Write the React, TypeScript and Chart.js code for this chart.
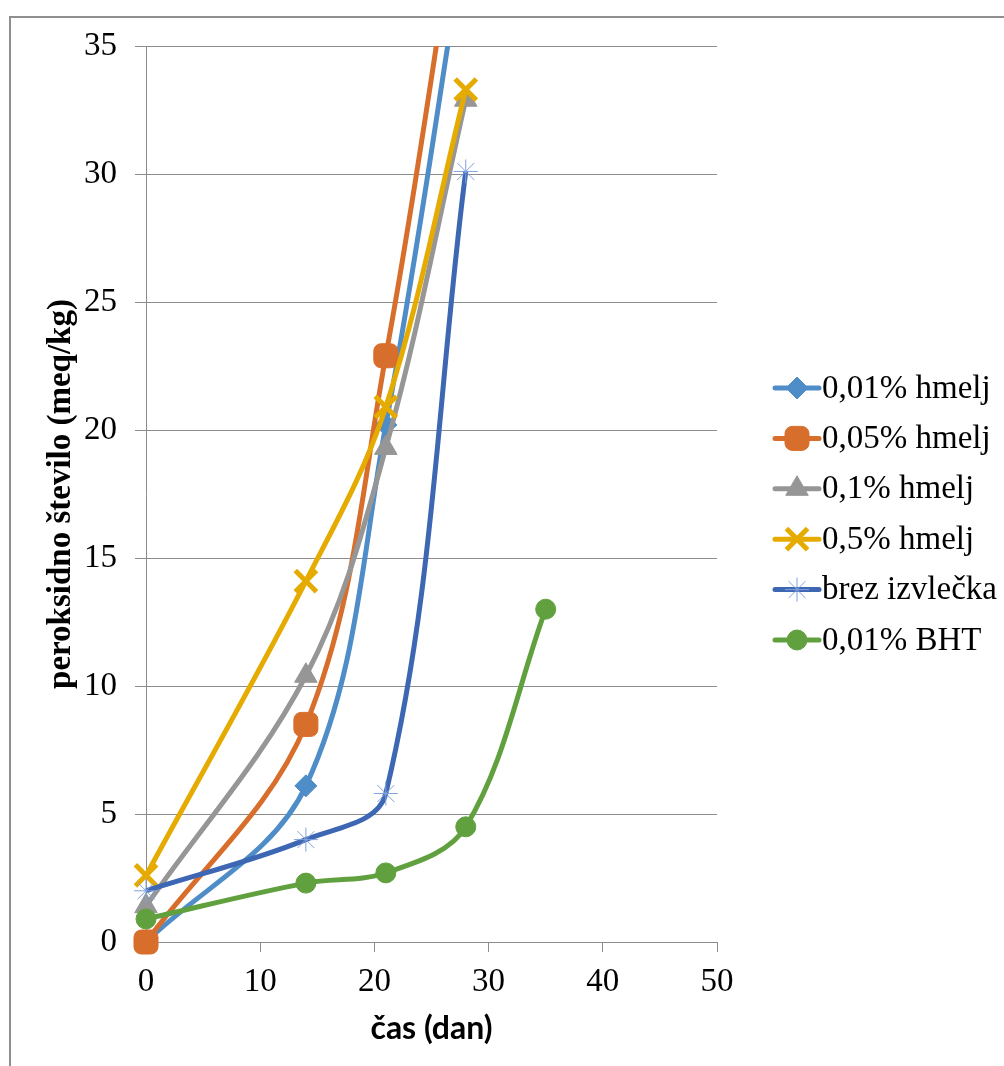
import React, { useEffect, useRef } from "react";
import { Chart, registerables } from "chart.js";
import { drawPoint } from "chart.js/helpers";

Chart.register(...registerables);

// ---- data ----
const days = [0, 14, 21, 28];
const bhtDays = [0, 14, 21, 28, 35];
const hmelj001 = [0, 6.1, 20.2, 39.5];
const hmelj005 = [0, 8.5, 22.9, 42.5];
const hmelj01 = [1.4, 10.4, 19.3, 32.9];
const hmelj05 = [2.6, 14.1, 20.9, 33.3];
const brezIzvlecka = [2.0, 4.0, 5.8, 30.1];
const bht001 = [0.9, 2.3, 2.7, 4.5, 13.0];
const seriesLabels = [
  "0,01% hmelj",
  "0,05% hmelj",
  "0,1% hmelj",
  "0,5% hmelj",
  "brez izvlečka",
  "0,01% BHT",
];
const xTitle = "čas (dan)";
const yTitle = "peroksidno število (meq/kg)";
const xMin = 0, xMax = 50, xStep = 10;
const yMin = 0, yMax = 35, yStep = 5;

const toXY = (xs: number[], ys: number[]) => ys.map((y, i) => ({ x: xs[i], y }));

const SERIF = '"Liberation Serif", "Times New Roman", serif';

const legendPlugin = {
  id: "sideLegend",
  afterDraw(chart: any) {
    const ctx = chart.ctx as CanvasRenderingContext2D;
    ctx.save();
    chart.data.datasets.forEach((ds: any, i: number) => {
      const y = 388 + i * 50.4;
      ctx.strokeStyle = ds.borderColor;
      ctx.lineWidth = 5;
      ctx.lineCap = "round";
      ctx.beginPath();
      ctx.moveTo(775, y);
      ctx.lineTo(819, y);
      ctx.stroke();
      ctx.lineCap = "butt";
      ctx.fillStyle = ds.pointBackgroundColor;
      ctx.strokeStyle = ds.pointBorderColor;
      ctx.lineWidth = ds.pointBorderWidth;
      drawPoint(
        ctx,
        { pointStyle: ds.pointStyle, radius: ds.pointRadius, rotation: 0, borderWidth: ds.pointBorderWidth } as any,
        797,
        y
      );
      ctx.fillStyle = "#000";
      ctx.font = `33px ${SERIF}`;
      ctx.textBaseline = "middle";
      ctx.textAlign = "left";
      ctx.fillText(ds.label, 822, y + 1);
    });
    ctx.restore();
  },
};

export default function App() {
  const ref = useRef<HTMLCanvasElement | null>(null);

  useEffect(() => {
    document.body.style.margin = "0";
    if (!ref.current) return;
    const mk = (
      label: string,
      data: { x: number; y: number }[],
      color: string,
      pointStyle: string,
      radius: number,
      order: number,
      extra: any = {}
    ) => ({
      label,
      data,
      borderColor: color,
      backgroundColor: color,
      pointBackgroundColor: color,
      pointBorderColor: color,
      pointBorderWidth: 1,
      pointStyle,
      pointRadius: radius,
      pointHoverRadius: radius,
      borderWidth: 5,
      tension: 0.35,
      fill: false,
      order,
      clip: { left: 30, right: 30, top: 0, bottom: 30 },
      ...extra,
    });

    const chart = new Chart(ref.current, {
      type: "line",
      data: {
        datasets: [
          mk(seriesLabels[0], toXY(days, hmelj001), "#4e8dc7", "rectRot", 11, 6),
          mk(seriesLabels[1], toXY(days, hmelj005), "#d86e2b", "rectRounded", 14, 5),
          mk(seriesLabels[2], toXY(days, hmelj01), "#969696", "triangle", 13, 4),
          mk(seriesLabels[3], toXY(days, hmelj05), "#e6ab00", "crossRot", 15, 3, { pointBorderWidth: 5 }),
          mk(seriesLabels[4], toXY(days, brezIzvlecka), "#3d66b3", "star", 12, 2, { pointBorderColor: "#7fa2de", pointBackgroundColor: "#7fa2de" }),
          mk(seriesLabels[5], toXY(bhtDays, bht001), "#61a03e", "circle", 10, 1),
        ] as any,
      },
      options: {
        animation: false,
        responsive: false,
        maintainAspectRatio: false,
        layout: { padding: { left: 0, right: 287, top: 46, bottom: 0 } },
        plugins: { legend: { display: false }, tooltip: { enabled: false } },
        scales: {
          x: {
            type: "linear",
            min: xMin,
            max: xMax,
            ticks: { stepSize: xStep, color: "#000", font: { family: SERIF, size: 33 }, padding: 11 },
            grid: { drawOnChartArea: false, drawTicks: true, tickLength: 10, color: "#8c8c8c", lineWidth: 1 },
            border: { display: true, color: "#8c8c8c", width: 1 },
            title: {
              display: true,
              text: xTitle,
              color: "#000",
              font: { family: "Lato, 'Open Sans', sans-serif", size: 32, weight: "bold" },
              padding: { top: 0, bottom: 18 },
            },
            afterFit: (s: any) => { s.height = 124; },
          },
          y: {
            type: "linear",
            min: yMin,
            max: yMax,
            ticks: { stepSize: yStep, color: "#000", font: { family: SERIF, size: 33 }, padding: 18 },
            grid: { drawOnChartArea: true, drawTicks: true, tickLength: 11, color: "#8c8c8c", lineWidth: 1 },
            border: { display: true, color: "#8c8c8c", width: 1 },
            title: {
              display: true,
              text: yTitle,
              color: "#000",
              font: { family: SERIF, size: 33, weight: "bold" },
              padding: { top: 42, bottom: 0 },
            },
            afterFit: (s: any) => { s.width = 146; },
          },
        },
      } as any,
      plugins: [legendPlugin],
    });
    return () => chart.destroy();
  }, []);

  return (
    <div style={{ position: "relative", width: 1004, height: 1066, background: "#fff", overflow: "hidden" }}>
      <canvas ref={ref} width={1004} height={1066} style={{ position: "absolute", left: 0, top: 0, width: 1004, height: 1066 }} />
      <div
        style={{
          position: "absolute",
          left: 9,
          top: 16,
          right: -4,
          bottom: -4,
          borderTop: "2px solid #8f8f8f",
          borderLeft: "2px solid #8f8f8f",
          pointerEvents: "none",
        }}
      />
    </div>
  );
}
